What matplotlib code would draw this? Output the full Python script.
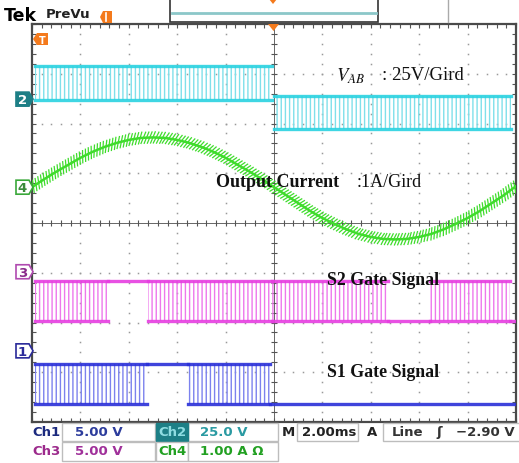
import matplotlib.pyplot as plt
import matplotlib.patheffects as pe
from matplotlib.patches import Polygon, Rectangle
import numpy as np

W, H = 519, 464

# screen is 10 div x 8 div, 2 ms/div; all levels below are in divisions
# output current, 1 A/div, read every 0.25 div
cur_a = [0.00, 0.16, 0.31, 0.45, 0.59, 0.71, 0.81, 0.89, 0.95, 0.99, 1.00,
         0.99, 0.95, 0.89, 0.81, 0.71, 0.59, 0.45, 0.31, 0.16, 0.00,
         -0.16, -0.32, -0.48, -0.62, -0.74, -0.85, -0.94, -1.00, -1.04, -1.05,
         -1.04, -1.00, -0.94, -0.85, -0.74, -0.62, -0.48, -0.32, -0.16, 0.02]
cur_t = np.linspace(0, 10, len(cur_a))

# channel ground markers
ch2_zero, ch4_zero, ch3_zero, ch1_zero = 2.49, 0.72, -0.98, -2.57

# V_AB (ch2): positive pulses in first half, negative in second half
vab_pulse = [(0.06, 4.96), (5.0, 9.9)]
vab_lo = [2.47, 1.89]
vab_hi = [3.15, 2.55]

# S2 gate (ch3)
s2_hi, s2_lo = -1.17, -1.97
s2_pulse = [(0.06, 1.57), (2.40, 4.95), (4.95, 7.36), (8.22, 9.88)]
s2_hold_hi = [(1.57, 2.40)]
s2_hold_lo = [(7.36, 8.22), (9.88, 10.0)]

# S1 gate (ch1)
s1_hi, s1_lo = -2.83, -3.64
s1_pulse = [(0.06, 2.38), (3.22, 4.92)]
s1_hold_hi = [(2.38, 3.22)]
s1_hold_lo = [(4.92, 10.0)]

CYAN, CYAN_P = '#2ad2e0', '#7fe0ea'
GREEN = '#3fdc2c'
MAG, MAG_P = '#e63ee0', '#ee78ec'
BLUE, BLUE_P = '#2a30d8', '#7c82ee'
ORANGE = '#f47a1c'

plt.rcParams['hatch.linewidth'] = 1.0

fig = plt.figure(figsize=(W / 100, H / 100), dpi=100)
ax = fig.add_axes([32 / W, (H - 423) / H, 484 / W, 398 / H])
ax.set_xlim(0, 10)
ax.set_ylim(-4, 4)

# graticule
for s in ax.spines.values():
    s.set_color('#4a4a4a')
    s.set_linewidth(1.6)
ax.set_xticks(range(11))
ax.set_xticks(np.arange(0, 10.01, 0.2), minor=True)
ax.set_yticks(range(-4, 5))
ax.set_yticks(np.arange(-4, 4.01, 0.2), minor=True)
ax.tick_params(which='both', direction='in', top=True, right=True, length=3,
               width=0.8, color='#555555', labelbottom=False, labelleft=False)
fine_x = np.arange(0, 10.01, 0.2)
fine_y = np.arange(-4, 4.01, 0.2)
for gx in [1, 2, 3, 4, 6, 7, 8, 9]:
    ax.plot(np.full_like(fine_y, gx), fine_y, ls='none', marker='s', ms=1.1,
            mew=0, color='#9a9a9a', zorder=1)
for gy in [-3, -2, -1, 1, 2, 3]:
    ax.plot(fine_x, np.full_like(fine_x, gy), ls='none', marker='s', ms=1.1,
            mew=0, color='#9a9a9a', zorder=1)
ax.axhline(0, color='#666666', lw=0.7, zorder=1)
ax.axvline(5, color='#666666', lw=0.7, zorder=1)
ax.plot(fine_x, np.zeros_like(fine_x), ls='none', marker='|', ms=5, mew=0.8,
        color='#555555', zorder=1)
ax.plot(np.full_like(fine_y, 5), fine_y, ls='none', marker='_', ms=5, mew=0.8,
        color='#555555', zorder=1)


def pulses(a, b, lo, hi, c_line, c_pulse):
    ax.fill_between([a, b], lo, hi, facecolor='none', edgecolor=c_pulse,
                    hatch='||||', linewidth=0, zorder=2)
    ax.plot([a, b], [hi, hi], color=c_line, lw=2.4, alpha=0.9, zorder=3)
    ax.plot([a, b], [lo, lo], color=c_line, lw=2.4, alpha=0.9, zorder=3)


def hold(spans, lvl, c_line):
    for a, b in spans:
        ax.plot([a, b], [lvl, lvl], color=c_line, lw=2.4, alpha=0.9, zorder=3)


# ch2 V_AB
for (a, b), lo, hi in zip(vab_pulse, vab_lo, vab_hi):
    pulses(a, b, lo, hi, CYAN, CYAN_P)

# ch3 S2
for a, b in s2_pulse:
    pulses(a, b, s2_lo, s2_hi, MAG, MAG_P)
hold(s2_hold_hi, s2_hi, MAG)
hold(s2_hold_lo, s2_lo, MAG)

# ch1 S1
for a, b in s1_pulse:
    pulses(a, b, s1_lo, s1_hi, BLUE, BLUE_P)
hold(s1_hold_hi, s1_hi, BLUE)
hold(s1_hold_lo, s1_lo, BLUE)

# ch4 current with switching ripple
ripple = [pe.TickedStroke(angle=65, spacing=2.3, length=1.9, linewidth=0.9),
          pe.TickedStroke(angle=-115, spacing=2.3, length=1.9, linewidth=0.9),
          pe.Normal()]
ax.plot(cur_t, np.array(cur_a) + ch4_zero, color=GREEN, lw=1.8, zorder=4,
        path_effects=ripple)

serif = 'Liberation Serif'

# overlay in pixel coordinates
ov = fig.add_axes([0, 0, 1, 1], zorder=5)
ov.set_xlim(0, W)
ov.set_ylim(H, 0)
ov.axis('off')

ov.text(336, 76, r'$\boldsymbol{V_{AB}}$', fontsize=13.5, ha='left',
        va='center', math_fontfamily='stix', color='#111111')
ov.text(382, 75, ': 25V/Gird', fontsize=13.5, family=serif, ha='left',
        va='center', color='#111111')
ov.text(216, 183, 'Output Current', fontsize=13, family=serif,
        fontweight='bold', ha='left', va='center', color='#111111')
ov.text(357, 183, ':1A/Gird', fontsize=13, family=serif, ha='left',
        va='center', color='#111111')
ov.text(327, 281, 'S2 Gate Signal', fontsize=12.8, family=serif,
        fontweight='bold', ha='left', va='center', color='#111111')
ov.text(327, 373, 'S1 Gate Signal', fontsize=12.8, family=serif,
        fontweight='bold', ha='left', va='center', color='#111111')

# header
ov.text(4, 16, 'Tek', fontsize=12.5, fontweight='bold', va='center')
ov.text(46, 15, 'PreVu', fontsize=9.5, fontweight='bold', va='center',
        color='#222222')
ov.add_patch(Polygon([(100, 18), (103, 12), (112, 12), (112, 24), (103, 24)],
                     facecolor=ORANGE, edgecolor='none'))
ov.plot([106, 106], [14, 22], color='white', lw=1.2)
ov.add_patch(Rectangle((170, -2), 208, 25, facecolor='white',
                       edgecolor='#333333', lw=1.2))
ov.plot([172, 376], [14, 14], color='#8cc7c9', lw=2.0)
ov.add_patch(Polygon([(269, 0), (277, 0), (273, 5)], facecolor=ORANGE,
                     edgecolor='none'))
ov.plot([448, 448], [0, 23], color='#aaaaaa', lw=1.0)
ov.add_patch(Polygon([(268, 25), (279, 25), (273.5, 32)], facecolor=ORANGE,
                     edgecolor='none'))
ov.add_patch(Polygon([(33, 40), (37, 34), (48, 34), (48, 46), (37, 46)],
                     facecolor=ORANGE, edgecolor='none'))
ov.text(42, 40.5, 'T', fontsize=7, fontweight='bold', color='white',
        ha='center', va='center')


def tag(yd, txt, face, edge, tc):
    y = 224 - yd * 49.75
    ov.add_patch(Polygon([(16, y - 7), (29, y - 7), (33, y), (29, y + 7),
                          (16, y + 7)], facecolor=face, edgecolor=edge, lw=1.2))
    ov.text(22.5, y + 0.5, txt, ha='center', va='center', color=tc,
            fontsize=9.5, fontweight='bold')


tag(ch2_zero, '2', '#1d7f86', '#1d7f86', 'white')
tag(ch4_zero, '4', 'white', '#3aa83a', '#3a8a3a')
tag(ch3_zero, '3', 'white', '#b04ab0', '#8a2a8a')
tag(ch1_zero, '1', 'white', '#2a2a9a', '#2a2a9a')

# status bar
box = dict(facecolor='white', edgecolor='#bdbdbd', lw=1.0)
for x0, x1 in [(62, 155), (188, 278), (297, 358)]:
    ov.add_patch(Rectangle((x0, 424), x1 - x0, 18, **box))
ov.add_patch(Rectangle((383, 424), 140, 18, **box))
ov.add_patch(Rectangle((156, 424), 32, 18, facecolor='#1d7f86',
                       edgecolor='#1d7f86', lw=1.0))
for x0, x1 in [(62, 155), (156, 188), (188, 278)]:
    ov.add_patch(Rectangle((x0, 443), x1 - x0, 19, **box))

bar = dict(fontsize=9.5, fontweight='bold', va='center')
ov.text(32, 433, 'Ch1', color='#1c2a7e', **bar)
ov.text(75, 433, '5.00 V', color='#2c3c9c', **bar)
ov.text(158, 433, 'Ch2', color='#8fdde2', **bar)
ov.text(200, 433, '25.0 V', color='#2a9aa2', **bar)
ov.text(282, 433, 'M', color='#222222', **bar)
ov.text(302, 433, '2.00ms', color='#222222', **bar)
ov.text(367, 433, 'A', color='#222222', **bar)
ov.text(392, 433, 'Line', color='#333333', **bar)
ov.text(436, 433, '\u0283', color='#333333', **bar)
ov.text(456, 433, '\u22122.90 V', color='#333333', **bar)
ov.text(32, 452, 'Ch3', color='#9c2a8c', **bar)
ov.text(75, 452, '5.00 V', color='#a0309a', **bar)
ov.text(158, 452, 'Ch4', color='#22a022', **bar)
ov.text(200, 452, '1.00 A \u03a9', color='#22a022', **bar)

fig.savefig('out.png', dpi=100)
